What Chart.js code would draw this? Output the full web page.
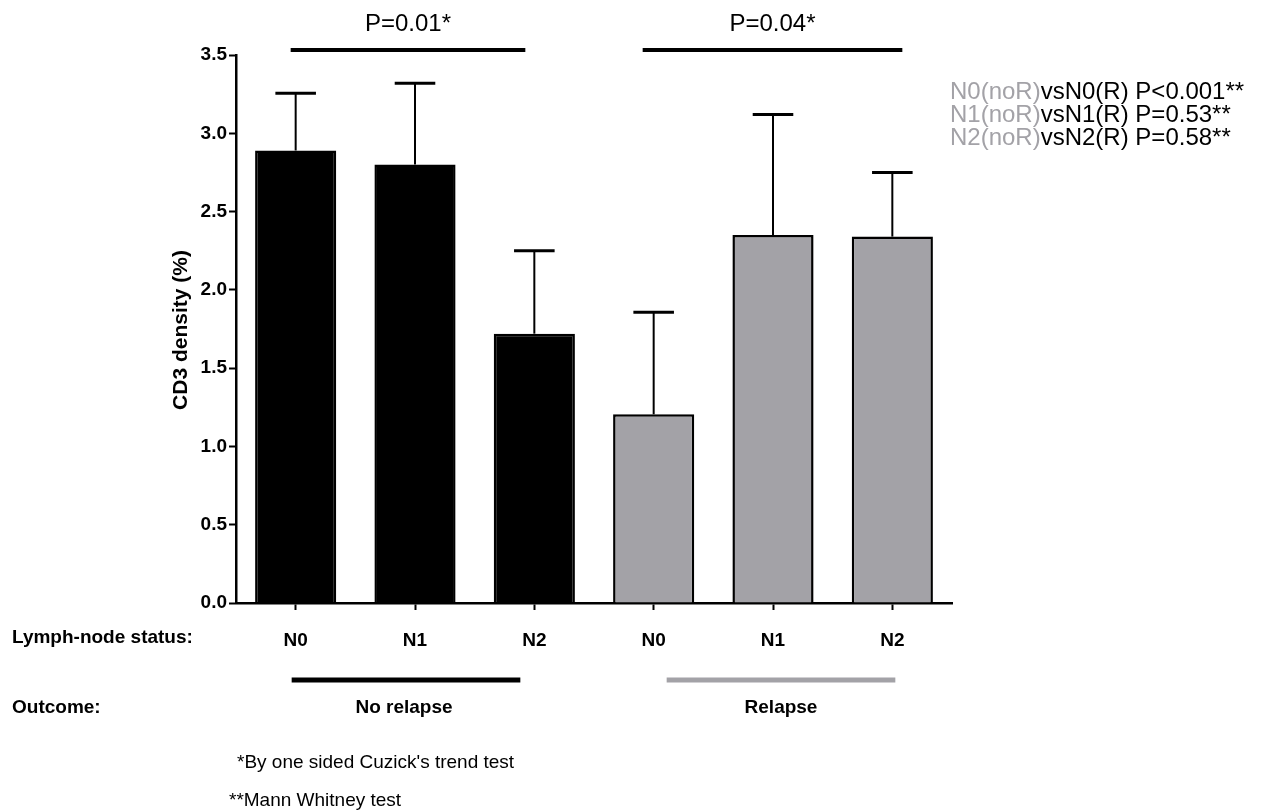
<!DOCTYPE html>
<html lang="en">
<head>
    <meta charset="UTF-8">
    <title>CD3 density by lymph-node status</title>
    <style>
        body {
            margin: 0;
            padding: 0;
            background-color: #fff;
        }
        #wrap {
            width: 1273px;
            height: 812px;
            position: relative;
        }
    </style>
</head>
<body>
<div id="wrap">
    <canvas id="cd3-chart"></canvas>
</div>
<script src="https://cdn.jsdelivr.net/npm/chart.js"></script>
<script>
    const categories = ['N0', 'N1', 'N2', 'N0', 'N1', 'N2'];
    const meanValues = [2.89, 2.80, 1.72, 1.205, 2.35, 2.34];
    const errorValues = [0.365, 0.52, 0.53, 0.652, 0.77, 0.41];
    const yTicks = [0, 0.5, 1.0, 1.5, 2.0, 2.5, 3.0, 3.5];
    const groupNames = ['No relapse', 'Relapse'];
    const trendPValues = ['P=0.01*', 'P=0.04*'];
    const pairLabels = ['N0(noR)', 'N1(noR)', 'N2(noR)'];
    const pairTests = ['vsN0(R) P<0.001**', 'vsN1(R) P=0.53**', 'vsN2(R) P=0.58**'];
    const footnotes = ["*By one sided Cuzick's trend test", '**Mann Whitney test'];

    const GRAY = '#a3a2a7';
    const FONT = "'Liberation Sans', Arial, sans-serif";

    // error bars (upper only) drawn from the bar elements
    const errorBarPlugin = {
        id: 'errorBars',
        afterDatasetsDraw(chart) {
            const ctx = chart.ctx;
            const y = chart.scales.y;
            const bars = chart.getDatasetMeta(0).data;
            ctx.save();
            ctx.strokeStyle = '#000';
            bars.forEach((bar, i) => {
                const top = y.getPixelForValue(meanValues[i] + errorValues[i]);
                const capHalf = bar.width / 4;
                ctx.lineWidth = 2;
                ctx.beginPath();
                ctx.moveTo(bar.x, bar.y);
                ctx.lineTo(bar.x, top);
                ctx.stroke();
                ctx.lineWidth = 3;
                ctx.beginPath();
                ctx.moveTo(bar.x - capHalf, top);
                ctx.lineTo(bar.x + capHalf, top);
                ctx.stroke();
            });
            ctx.restore();
        }
    };

    // all the extra text and group lines around the plot
    const annotationPlugin = {
        id: 'annotations',
        afterDraw(chart) {
            const ctx = chart.ctx;
            const x = chart.scales.x;
            const area = chart.chartArea;
            const c = i => x.getPixelForValue(i);
            ctx.save();

            // y axis title
            ctx.save();
            ctx.translate(181, (area.top + area.bottom) / 2 + 1);
            ctx.rotate(-Math.PI / 2);
            ctx.font = 'bold 21px ' + FONT;
            ctx.fillStyle = '#000';
            ctx.textAlign = 'center';
            ctx.textBaseline = 'middle';
            ctx.fillText('CD3 density (%)', 0, 0);
            ctx.restore();

            // trend test brackets on top
            ctx.lineWidth = 4;
            ctx.strokeStyle = '#000';
            const brackets = [[c(0) - 5, c(2) - 9], [c(3) - 11, c(5) + 10]];
            brackets.forEach((b, i) => {
                ctx.beginPath();
                ctx.moveTo(b[0], 50);
                ctx.lineTo(b[1], 50);
                ctx.stroke();
                ctx.font = '24px ' + FONT;
                ctx.fillStyle = '#000';
                ctx.textAlign = 'center';
                ctx.textBaseline = 'middle';
                ctx.fillText(trendPValues[i], (b[0] + b[1]) / 2, 24);
            });

            // row labels
            ctx.font = 'bold 19px ' + FONT;
            ctx.textAlign = 'left';
            ctx.textBaseline = 'middle';
            ctx.fillStyle = '#000';
            ctx.fillText('Lymph-node status:', 12, 638);
            ctx.fillText('Outcome:', 12, 708);

            // outcome group lines
            ctx.lineWidth = 5;
            ctx.strokeStyle = '#000';
            ctx.beginPath();
            ctx.moveTo(c(0) - 4, 680);
            ctx.lineTo(c(2) - 14, 680);
            ctx.stroke();
            ctx.strokeStyle = GRAY;
            ctx.beginPath();
            ctx.moveTo(c(3) + 13, 680);
            ctx.lineTo(c(5) + 3, 680);
            ctx.stroke();

            ctx.textAlign = 'center';
            ctx.fillStyle = '#000';
            ctx.fillText(groupNames[0], (c(0) + c(2)) / 2 - 11, 708);
            ctx.fillText(groupNames[1], (c(3) + c(5)) / 2 + 8, 708);

            // footnotes
            ctx.font = '19px ' + FONT;
            ctx.textAlign = 'left';
            ctx.fillText(footnotes[0], 237, 763);
            ctx.fillText(footnotes[1], 229, 801);

            // pairwise comparisons on the right
            ctx.font = '24px ' + FONT;
            pairLabels.forEach((lab, i) => {
                const yy = 92 + i * 23;
                ctx.fillStyle = GRAY;
                ctx.fillText(lab, 950, yy);
                const w = ctx.measureText(lab).width;
                ctx.fillStyle = '#000';
                ctx.fillText(pairTests[i], 950 + w, yy);
            });

            ctx.restore();
        }
    };

    const canvas = document.getElementById('cd3-chart');
    canvas.width = 1273;
    canvas.height = 812;

    new Chart(canvas.getContext('2d'), {
        type: 'bar',
        data: {
            labels: categories,
            datasets: [{
                data: meanValues,
                backgroundColor: categories.map((_, i) => i < 3 ? '#000' : GRAY),
                borderColor: '#000',
                borderWidth: 2.5,
                categoryPercentage: 1,
                barPercentage: 0.68
            }]
        },
        options: {
            responsive: false,
            animation: false,
            layout: {
                padding: { top: 55, right: 321, left: 0, bottom: 0 }
            },
            plugins: {
                legend: { display: false },
                tooltip: { enabled: false }
            },
            scales: {
                x: {
                    afterFit(scale) { scale.height = 209; },
                    grid: {
                        display: true,
                        offset: false,
                        drawOnChartArea: false,
                        drawTicks: true,
                        tickLength: 7,
                        tickWidth: 2,
                        color: '#000'
                    },
                    border: { display: true, color: '#000', width: 2.5 },
                    ticks: {
                        color: '#000',
                        padding: 19,
                        font: { family: FONT, size: 19, weight: 'bold' }
                    }
                },
                y: {
                    min: 0,
                    max: 3.5,
                    afterFit(scale) { scale.width = 236; },
                    afterBuildTicks(scale) {
                        scale.ticks = yTicks.map(v => ({ value: v }));
                    },
                    grid: {
                        display: true,
                        drawOnChartArea: false,
                        drawTicks: true,
                        tickLength: 7,
                        tickWidth: 2,
                        color: '#000'
                    },
                    border: { display: true, color: '#000', width: 2.5 },
                    ticks: {
                        color: '#000',
                        padding: 2,
                        font: { family: FONT, size: 19, weight: 'bold' },
                        callback: v => Number(v).toFixed(1)
                    }
                }
            }
        },
        plugins: [errorBarPlugin, annotationPlugin]
    });
</script>
</body>
</html>
